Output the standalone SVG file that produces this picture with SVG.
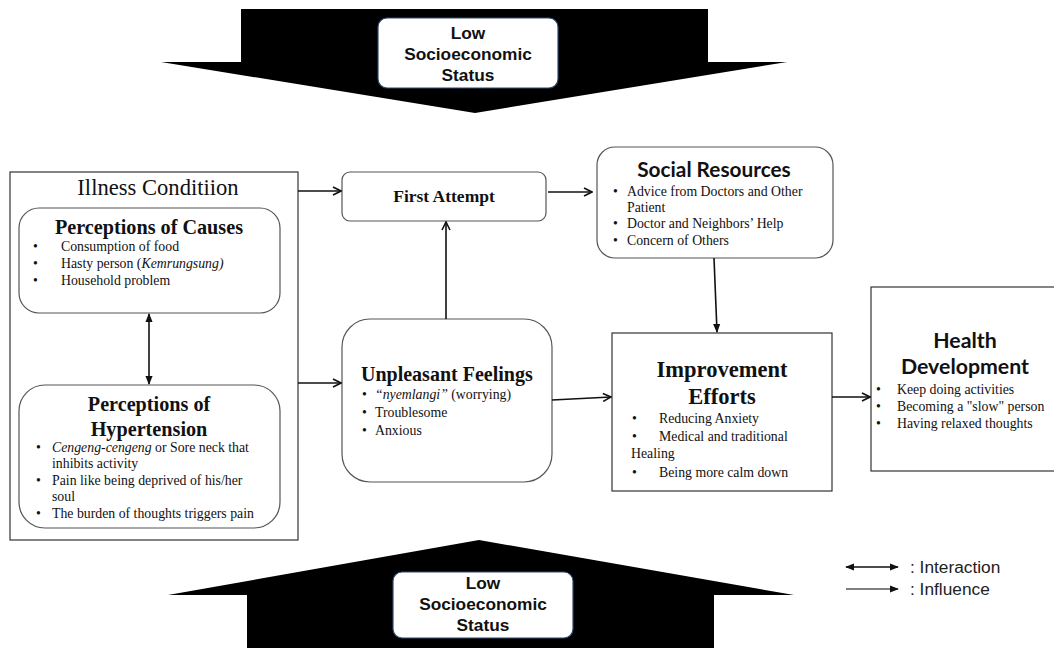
<svg xmlns="http://www.w3.org/2000/svg" width="1054" height="648" viewBox="0 0 1054 648">
<style>
.box{fill:#fff;stroke:#333;stroke-width:1.2}
.rbox{fill:#fff;stroke:#555;stroke-width:1.2}
.lbl{fill:#fff;stroke:#2f4a6e;stroke-width:1.2}
.ses{font-family:"Liberation Sans",Arial,sans-serif;font-weight:bold;font-size:17.3px;fill:#111;text-anchor:middle}
.t{font-family:"Liberation Serif","Times New Roman",serif;font-size:13.8px;fill:#111}
.tb{font-family:"Liberation Serif","Times New Roman",serif;font-weight:bold;fill:#111}
.cb{font-family:Lato,"Open Sans",sans-serif;font-weight:bold;fill:#111;text-anchor:middle}
.leg{font-family:"Liberation Sans",Arial,sans-serif;font-size:17.3px;fill:#222}
.c{stroke:#111;stroke-width:1.6;fill:none}
</style>
<defs>
<marker id="ah" viewBox="0 0 10 10" refX="9" refY="5" markerWidth="10" markerHeight="10" markerUnits="userSpaceOnUse" orient="auto-start-reverse">
<path d="M1,1 L9,5 L1,9" fill="none" stroke="#111" stroke-width="1.6"/>
</marker>
<marker id="fh" viewBox="0 0 10 10" refX="9" refY="5" markerWidth="9" markerHeight="9" markerUnits="userSpaceOnUse" orient="auto-start-reverse">
<path d="M0,1 L10,5 L0,9 Z" fill="#111"/>
</marker>
</defs>
<rect width="1054" height="648" fill="#fff"/>

<g id="ses-top">
<path d="M241,9 L708,9 L708,62 L787,62 L475,113 L161,62 L241,62 Z" fill="#000"/>
<rect class="lbl" x="378" y="18" width="180" height="70" rx="9"/>
<text class="ses" x="468" y="39">Low</text>
<text class="ses" x="468" y="60">Socioeconomic</text>
<text class="ses" x="468" y="81">Status</text>
</g>

<g id="ses-bottom">
<path d="M479,540 L794,595 L714,595 L714,648 L247,648 L247,595 L168,595 Z" fill="#000"/>
<rect class="lbl" x="393" y="572" width="180" height="66" rx="9"/>
<text class="ses" x="483" y="589">Low</text>
<text class="ses" x="483" y="610">Socioeconomic</text>
<text class="ses" x="483" y="631">Status</text>
</g>

<g id="illness-condition">
<rect class="box" x="10" y="172" width="288" height="368"/>
<text x="158" y="195" font-family="'Liberation Serif','Times New Roman',serif" font-size="22.6" fill="#111" text-anchor="middle">Illness Conditiion</text>
</g>

<g id="perceptions-causes">
<rect class="rbox" x="19" y="208" width="261" height="105" rx="20"/>
<text class="tb" x="149" y="234" font-size="20.2" text-anchor="middle">Perceptions of Causes</text>
<text class="t" x="33" y="251">•</text><text class="t" x="61" y="251">Consumption of food</text>
<text class="t" x="33" y="268">•</text><text class="t" x="61" y="268">Hasty person (<tspan font-style="italic">Kemrungsung)</tspan></text>
<text class="t" x="33" y="285">•</text><text class="t" x="61" y="285">Household problem</text>
</g>

<g id="perceptions-hypertension">
<rect class="rbox" x="19" y="385" width="261" height="143" rx="26"/>
<text class="tb" x="149" y="411" font-size="20.2" text-anchor="middle">Perceptions of</text>
<text class="tb" x="149" y="436" font-size="20.2" text-anchor="middle">Hypertension</text>
<text class="t" x="36" y="452">•</text><text class="t" x="52" y="452"><tspan font-style="italic">Cengeng-cengeng</tspan> or Sore neck that</text>
<text class="t" x="52" y="468">inhibits activity</text>
<text class="t" x="36" y="485">•</text><text class="t" x="52" y="485">Pain like being deprived of his/her</text>
<text class="t" x="52" y="501">soul</text>
<text class="t" x="36" y="518">•</text><text class="t" x="52" y="518">The burden of thoughts triggers pain</text>
</g>

<g id="first-attempt">
<rect class="rbox" x="342" y="172" width="204" height="49" rx="8"/>
<text class="tb" x="444" y="202" font-size="17.5" text-anchor="middle">First Attempt</text>
</g>

<g id="unpleasant-feelings">
<rect class="rbox" x="342" y="319" width="210" height="163" rx="28"/>
<text class="tb" x="361" y="381" font-size="20">Unpleasant Feelings</text>
<text class="t" x="362" y="399">•</text><text class="t" x="375" y="399"><tspan font-style="italic">“nyemlangi”</tspan> (worrying)</text>
<text class="t" x="362" y="417">•</text><text class="t" x="375" y="417">Troublesome</text>
<text class="t" x="362" y="435">•</text><text class="t" x="375" y="435">Anxious</text>
</g>

<g id="social-resources">
<rect class="rbox" x="597" y="147" width="236" height="111" rx="18"/>
<text class="cb" x="714" y="177" font-size="20.8">Social Resources</text>
<text class="t" x="613" y="196">•</text><text class="t" x="627" y="196">Advice from Doctors and Other</text>
<text class="t" x="627" y="212">Patient</text>
<text class="t" x="613" y="228">•</text><text class="t" x="627" y="228">Doctor and Neighbors’ Help</text>
<text class="t" x="613" y="245">•</text><text class="t" x="627" y="245">Concern of Others</text>
</g>

<g id="improvement-efforts">
<rect class="box" x="612" y="333" width="220" height="158"/>
<text class="tb" x="722" y="377" font-size="22.5" text-anchor="middle">Improvement</text>
<text class="tb" x="722" y="404" font-size="22.5" text-anchor="middle">Efforts</text>
<text class="t" x="632" y="423">•</text><text class="t" x="659" y="423">Reducing Anxiety</text>
<text class="t" x="632" y="441">•</text><text class="t" x="659" y="441">Medical and traditional</text>
<text class="t" x="631" y="458">Healing</text>
<text class="t" x="632" y="477">•</text><text class="t" x="659" y="477">Being more calm down</text>
</g>

<g id="health-development">
<rect class="box" x="871" y="287" width="190" height="184"/>
<text class="cb" x="965" y="348" font-size="21.3">Health</text>
<text class="cb" x="965" y="374" font-size="21.3">Development</text>
<text class="t" x="876" y="394">•</text><text class="t" x="897" y="394">Keep doing activities</text>
<text class="t" x="876" y="411">•</text><text class="t" x="897" y="411">Becoming a "slow" person</text>
<text class="t" x="876" y="428">•</text><text class="t" x="897" y="428">Having relaxed thoughts</text>
</g>

<g id="connectors">
<line class="c" x1="149" y1="314" x2="149" y2="384" marker-start="url(#fh)" marker-end="url(#fh)"/>
<line class="c" x1="298" y1="191" x2="341" y2="191" marker-end="url(#ah)"/>
<line class="c" x1="298" y1="383" x2="341" y2="383" marker-end="url(#ah)"/>
<line class="c" x1="446" y1="319" x2="446" y2="222" marker-end="url(#ah)"/>
<line class="c" x1="548" y1="192" x2="592" y2="192" marker-end="url(#ah)"/>
<line class="c" x1="714" y1="258" x2="717" y2="332" marker-end="url(#fh)"/>
<line class="c" x1="552" y1="400" x2="611" y2="397" marker-end="url(#ah)"/>
<line class="c" x1="832" y1="397" x2="870" y2="397" marker-end="url(#ah)"/>
</g>

<g id="legend">
<line class="c" x1="846" y1="567" x2="898" y2="567" marker-start="url(#fh)" marker-end="url(#fh)"/>
<text class="leg" x="910" y="573">: Interaction</text>
<line x1="846" y1="589" x2="898" y2="589" stroke="#555" stroke-width="1.3" marker-end="url(#fh)"/>
<text class="leg" x="910" y="595">: Influence</text>
</g>
</svg>
